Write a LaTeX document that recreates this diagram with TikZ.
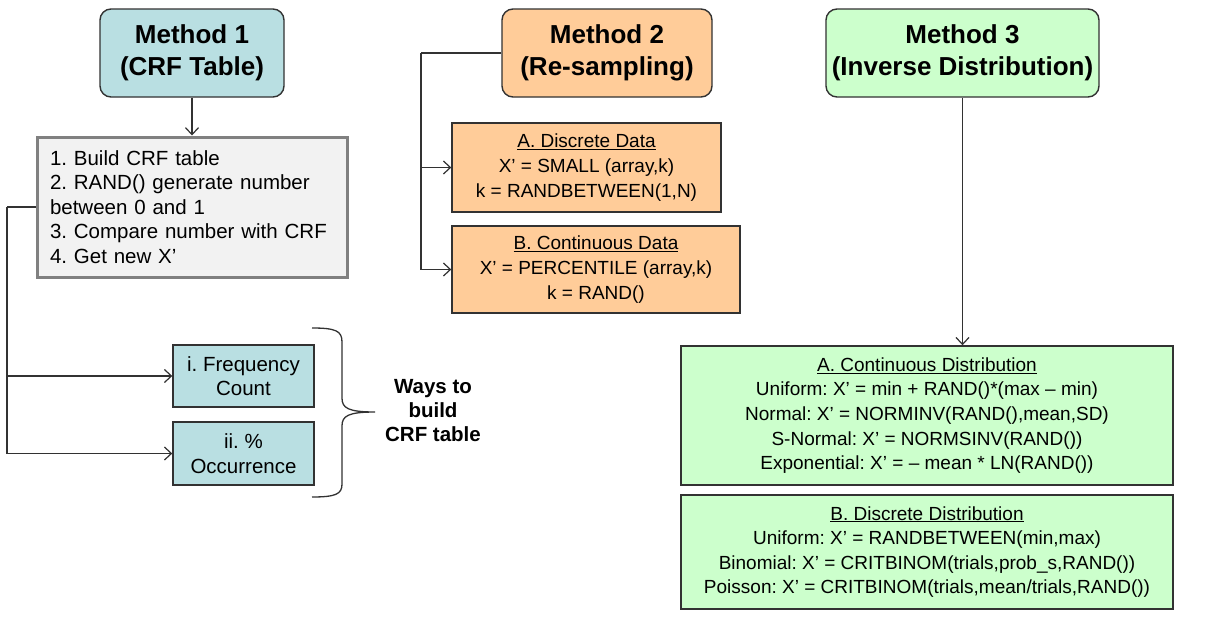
\documentclass[tikz,border=0pt]{standalone}
\usepackage{fontspec}
\setmainfont{Liberation Sans}
\usetikzlibrary{arrows.meta}
\frenchspacing
\definecolor{tealfill}{RGB}{185,223,226}
\definecolor{peach}{RGB}{255,204,153}
\definecolor{mint}{RGB}{204,255,204}
\definecolor{greyfill}{RGB}{242,242,242}
\definecolor{greyline}{RGB}{128,128,128}
\definecolor{linec}{RGB}{50,50,50}
\tikzset{
  titlebox/.style={draw=linec, line width=1.4pt, rounded corners=11pt, align=center, inner sep=0pt,
    font=\fontsize{26}{32}\selectfont\bfseries},
  plainbox/.style={draw=linec, line width=1.4pt, align=center, inner sep=0pt,
    font=\fontsize{19}{24.6}\selectfont},
  leftbox/.style={draw=linec, line width=1.4pt, align=center, inner sep=0pt,
    font=\fontsize{20.5}{24.5}\selectfont},
  conn/.style={draw=linec, line width=1.3pt},
  arr/.style={conn, -{Straight Barb[length=7pt,width=13pt,line width=1.2pt]}}
}
\begin{document}
\begin{tikzpicture}[x=1pt,y=-1pt]
\useasboundingbox[fill=white] (0,0) rectangle (1216,624);

% Method 1
\node[titlebox, fill=tealfill, minimum width=184pt, minimum height=88pt] (m1) at (192,53) {Method 1\\(CRF Table)};
\node[draw=greyline, line width=3pt, fill=greyfill, minimum width=310pt, minimum height=140pt,
      font=\fontsize{20.5}{24.5}\selectfont, align=left, text width=284pt, inner xsep=13pt, inner ysep=0pt] (steps) at (192,207)
  {1. Build CRF table\\2. RAND() generate number\\between 0 and 1\\3. Compare number with CRF\\4. Get new X’};
\node[leftbox, fill=tealfill, minimum width=141pt, minimum height=62pt] (freq) at (243.5,376) {i. Frequency\\Count};
\node[leftbox, fill=tealfill, minimum width=141pt, minimum height=63pt] (occ) at (243.5,453.5) {ii. \%\\Occurrence};
\node[align=center, font=\fontsize{20.5}{24}\selectfont\bfseries] (ways) at (433,411) {Ways to\\build\\CRF table};

\draw[arr] (m1.south) -- (steps.north);
\coordinate (c1) at (7,207);
\draw[conn] (steps.west |- c1) -- (c1);
\draw[arr] (c1) |- (freq.west);
\draw[arr] (c1) |- (occ.west);

% brace
\coordinate (bt) at (312,328);
\coordinate (bb) at (312,497);
\coordinate (btip) at (375,412);
\draw[conn] (bt) .. controls (336,328) and (342,331) .. (342,342) -- (342,398)
  .. controls (342,408) and (348,412) .. (btip)
  .. controls (348,412) and (342,416) .. (342,426) -- (342,484)
  .. controls (342,494) and (336,497) .. (bb);

% Method 2
\node[titlebox, fill=peach, minimum width=210pt, minimum height=88pt] (m2) at (607,53) {Method 2\\(Re-sampling)};
\node[plainbox, fill=peach, minimum width=269pt, minimum height=89pt] (a2) at (586.5,167.5)
  {\underline{A. Discrete Data}\\X’ = SMALL (array,k)\\k = RANDBETWEEN(1,N)};
\node[plainbox, fill=peach, minimum width=288pt, minimum height=87pt] (b2) at (596,269.5)
  {\underline{B. Continuous Data}\\X’ = PERCENTILE (array,k)\\k = RAND()};
\coordinate (c2) at (421,53);
\draw[conn] (m2.west) -- (c2);
\draw[arr] (c2) |- (a2.west);
\draw[arr] (c2) |- (b2.west);

% Method 3
\node[titlebox, fill=mint, minimum width=273pt, minimum height=88pt] (m3) at (962.5,53) {Method 3\\(Inverse Distribution)};
\node[plainbox, fill=mint, minimum width=492pt, minimum height=139pt] (a3) at (927,415.5)
  {\underline{A. Continuous Distribution}\\Uniform: X’ = min + RAND()*(max – min)\\Normal: X’ = NORMINV(RAND(),mean,SD)\\S-Normal: X’ = NORMSINV(RAND())\\Exponential: X’ = – mean * LN(RAND())};
\node[plainbox, fill=mint, minimum width=492pt, minimum height=114pt] (b3) at (927,552)
  {\underline{B. Discrete Distribution}\\Uniform: X’ = RANDBETWEEN(min,max)\\Binomial: X’ = CRITBINOM(trials,prob\_s,RAND())\\Poisson: X’ = CRITBINOM(trials,mean/trials,RAND())};
\draw[arr] (m3.south) -- (m3.south |- a3.north);
\end{tikzpicture}
\end{document}
